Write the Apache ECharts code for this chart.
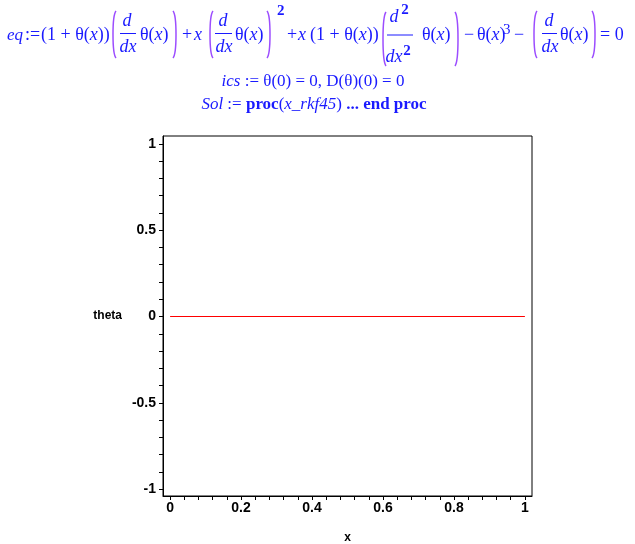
<!DOCTYPE html>
<html>
<head>
<meta charset="utf-8">
<script src="https://cdn.jsdelivr.net/npm/echarts@6/dist/echarts.min.js"></script>
<style>html,body{margin:0;padding:0;background:#fff;}#c{width:635px;height:544px;}</style>
</head>
<body>
<div id="c"></div>
<script>
// ---- data ----
const xValues = [0, 1];
const thetaValues = [0, 0];
const xTickLabels = [0, 0.2, 0.4, 0.6, 0.8, 1];
const yTickLabels = [-1, -0.5, 0, 0.5, 1];
const xAxisTitle = 'x';
const yAxisTitle = 'theta';

// minor tick positions (every 0.04 on x, 0.1 on y)
const xTicks = [];
for (let i = 0; i <= 25; i++) xTicks.push(+(i * 0.04).toFixed(2));
const yTicks = [];
for (let i = -10; i <= 10; i++) yTicks.push(+(i * 0.1).toFixed(1));

const BLUE = '#1a1aff';
const PURPLE = '#9c4dff';
const SERIF = '"Liberation Serif", "DejaVu Serif", serif';
const FS = 18;
function mkRich(fs) {
  return {
    i: { fontStyle: 'italic', fontFamily: SERIF, fontSize: fs, fill: BLUE },
    b: { fontWeight: 'bold', fontFamily: SERIF, fontSize: fs, fill: BLUE }
  };
}
function txt(x, y, text, align, size, weight) {
  const fs = size || FS;
  return {
    type: 'text', x: x, y: y, silent: true,
    style: {
      text: text, x: 0, y: 0, fill: BLUE,
      font: (weight ? weight + ' ' : '') + fs + 'px ' + SERIF,
      align: align || 'left', verticalAlign: 'middle', rich: mkRich(fs)
    }
  };
}
function paren(x, top, bottom, open) {
  const h = bottom - top;
  const w = 4;
  const xe = open ? x + w : x;
  const xm = open ? x : x + w;
  return {
    type: 'bezierCurve', silent: true,
    shape: { x1: xe, y1: top, x2: xe, y2: bottom, cpx1: xm, cpy1: top + h * 0.1, cpx2: xm, cpy2: bottom - h * 0.1 },
    style: { stroke: PURPLE, lineWidth: 1.5, fill: null }
  };
}
function bar(x1, x2, y) {
  return { type: 'line', silent: true, shape: { x1: x1, y1: y, x2: x2, y2: y }, style: { stroke: BLUE, lineWidth: 1 } };
}
const theta = 'θ({i|x})';
const g = [];
// row 1
g.push(txt(7, 36, '{i|eq}', 'left', 17));
g.push(txt(25, 35, ':='));
g.push(txt(41, 35, '(1 + ' + theta + ')'));
g.push(paren(112, 11, 58, true));
g.push(txt(127, 21, '{i|d}', 'center'));
g.push(bar(120, 136, 33.5));
g.push(txt(128, 47, '{i|dx}', 'center'));
g.push(txt(140, 35, theta));
g.push(paren(173, 11, 58, false));
g.push(txt(182, 35, '+'));
g.push(txt(194, 35, '{i|x}'));
g.push(paren(209, 11, 58, true));
g.push(txt(223, 21, '{i|d}', 'center'));
g.push(bar(215, 232, 33.5));
g.push(txt(224, 47, '{i|dx}', 'center'));
g.push(txt(235, 35, theta));
g.push(paren(267, 11, 58, false));
g.push(txt(277, 11, '2', 'left', 15, 'bold'));
g.push(txt(287, 35, '+'));
g.push(txt(298, 35, '{i|x}'));
g.push(txt(310, 35, '(1 + ' + theta + ')'));
g.push(paren(382, 12, 66, true));
g.push(txt(394, 17, '{i|d}', 'center'));
g.push(txt(405, 10, '2', 'center', 15, 'bold'));
g.push(bar(387, 413, 35));
g.push(txt(394, 57, '{i|dx}', 'center'));
g.push(txt(407, 51, '2', 'center', 15, 'bold'));
g.push(txt(422, 35, theta));
g.push(paren(455, 12, 66, false));
g.push(txt(464, 35, '−'));
g.push(txt(477, 35, theta));
g.push(txt(503, 30, '3', 'left', 15));
g.push(txt(514, 35, '−'));
g.push(paren(533, 11, 58, true));
g.push(txt(549, 21, '{i|d}', 'center'));
g.push(bar(542, 557, 33.5));
g.push(txt(550, 47, '{i|dx}', 'center'));
g.push(txt(560, 35, theta));
g.push(paren(592, 11, 58, false));
g.push(txt(600, 35, '= 0'));
// row 2
g.push(txt(313, 82, '{i|ics} := θ(0) = 0, D(θ)(0) = 0', 'center', 17));
// row 3
g.push(txt(314, 105, '{i|Sol} := {b|proc}({i|x_rkf45}) {b|...} {b|end proc}', 'center', 17));

const axisFont = { fontFamily: '"Liberation Sans", Arial, sans-serif', fontWeight: 'bold', fontSize: 14, color: '#000' };

const chart = echarts.init(document.getElementById('c'), null, { renderer: 'canvas' });
chart.setOption({
  animation: false,
  backgroundColor: '#fff',
  grid: { left: 163, top: 136, width: 369, height: 360, show: true, borderColor: '#000', borderWidth: 1,
          backgroundColor: 'transparent', containLabel: false, outerBoundsMode: 'none' },
  xAxis: {
    type: 'value', min: -0.02, max: 1.02,
    name: xAxisTitle, nameLocation: 'middle', nameGap: 36,
    nameTextStyle: Object.assign({}, axisFont, { fontSize: 12 }),
    axisLine: { show: true, onZero: false, lineStyle: { color: '#000', width: 1 } },
    axisTick: { show: true, length: 4, customValues: xTicks, lineStyle: { color: '#000' } },
    axisLabel: Object.assign({ customValues: xTickLabels, margin: 5, formatter: v => String(v) }, axisFont),
    splitLine: { show: false }
  },
  yAxis: {
    type: 'value', min: -1.0402, max: 1.046,
    name: yAxisTitle, nameLocation: 'middle', nameRotate: 0, nameGap: 41,
    nameTextStyle: Object.assign({}, axisFont, { fontSize: 12, align: 'right', padding: [3, 0, 0, 0] }),
    axisLine: { show: true, onZero: false, lineStyle: { color: '#000', width: 1 } },
    axisTick: { show: true, length: 4, customValues: yTicks, lineStyle: { color: '#000' } },
    axisLabel: Object.assign({ customValues: yTickLabels, margin: 7, formatter: v => String(v) }, axisFont),
    splitLine: { show: false }
  },
  series: [{
    type: 'line', data: xValues.map((x, i) => [x, thetaValues[i]]),
    showSymbol: false, symbol: 'none',
    lineStyle: { color: '#ff0000', width: 1 }, itemStyle: { color: '#ff0000' }
  }],
  graphic: g
});
</script>
</body>
</html>
